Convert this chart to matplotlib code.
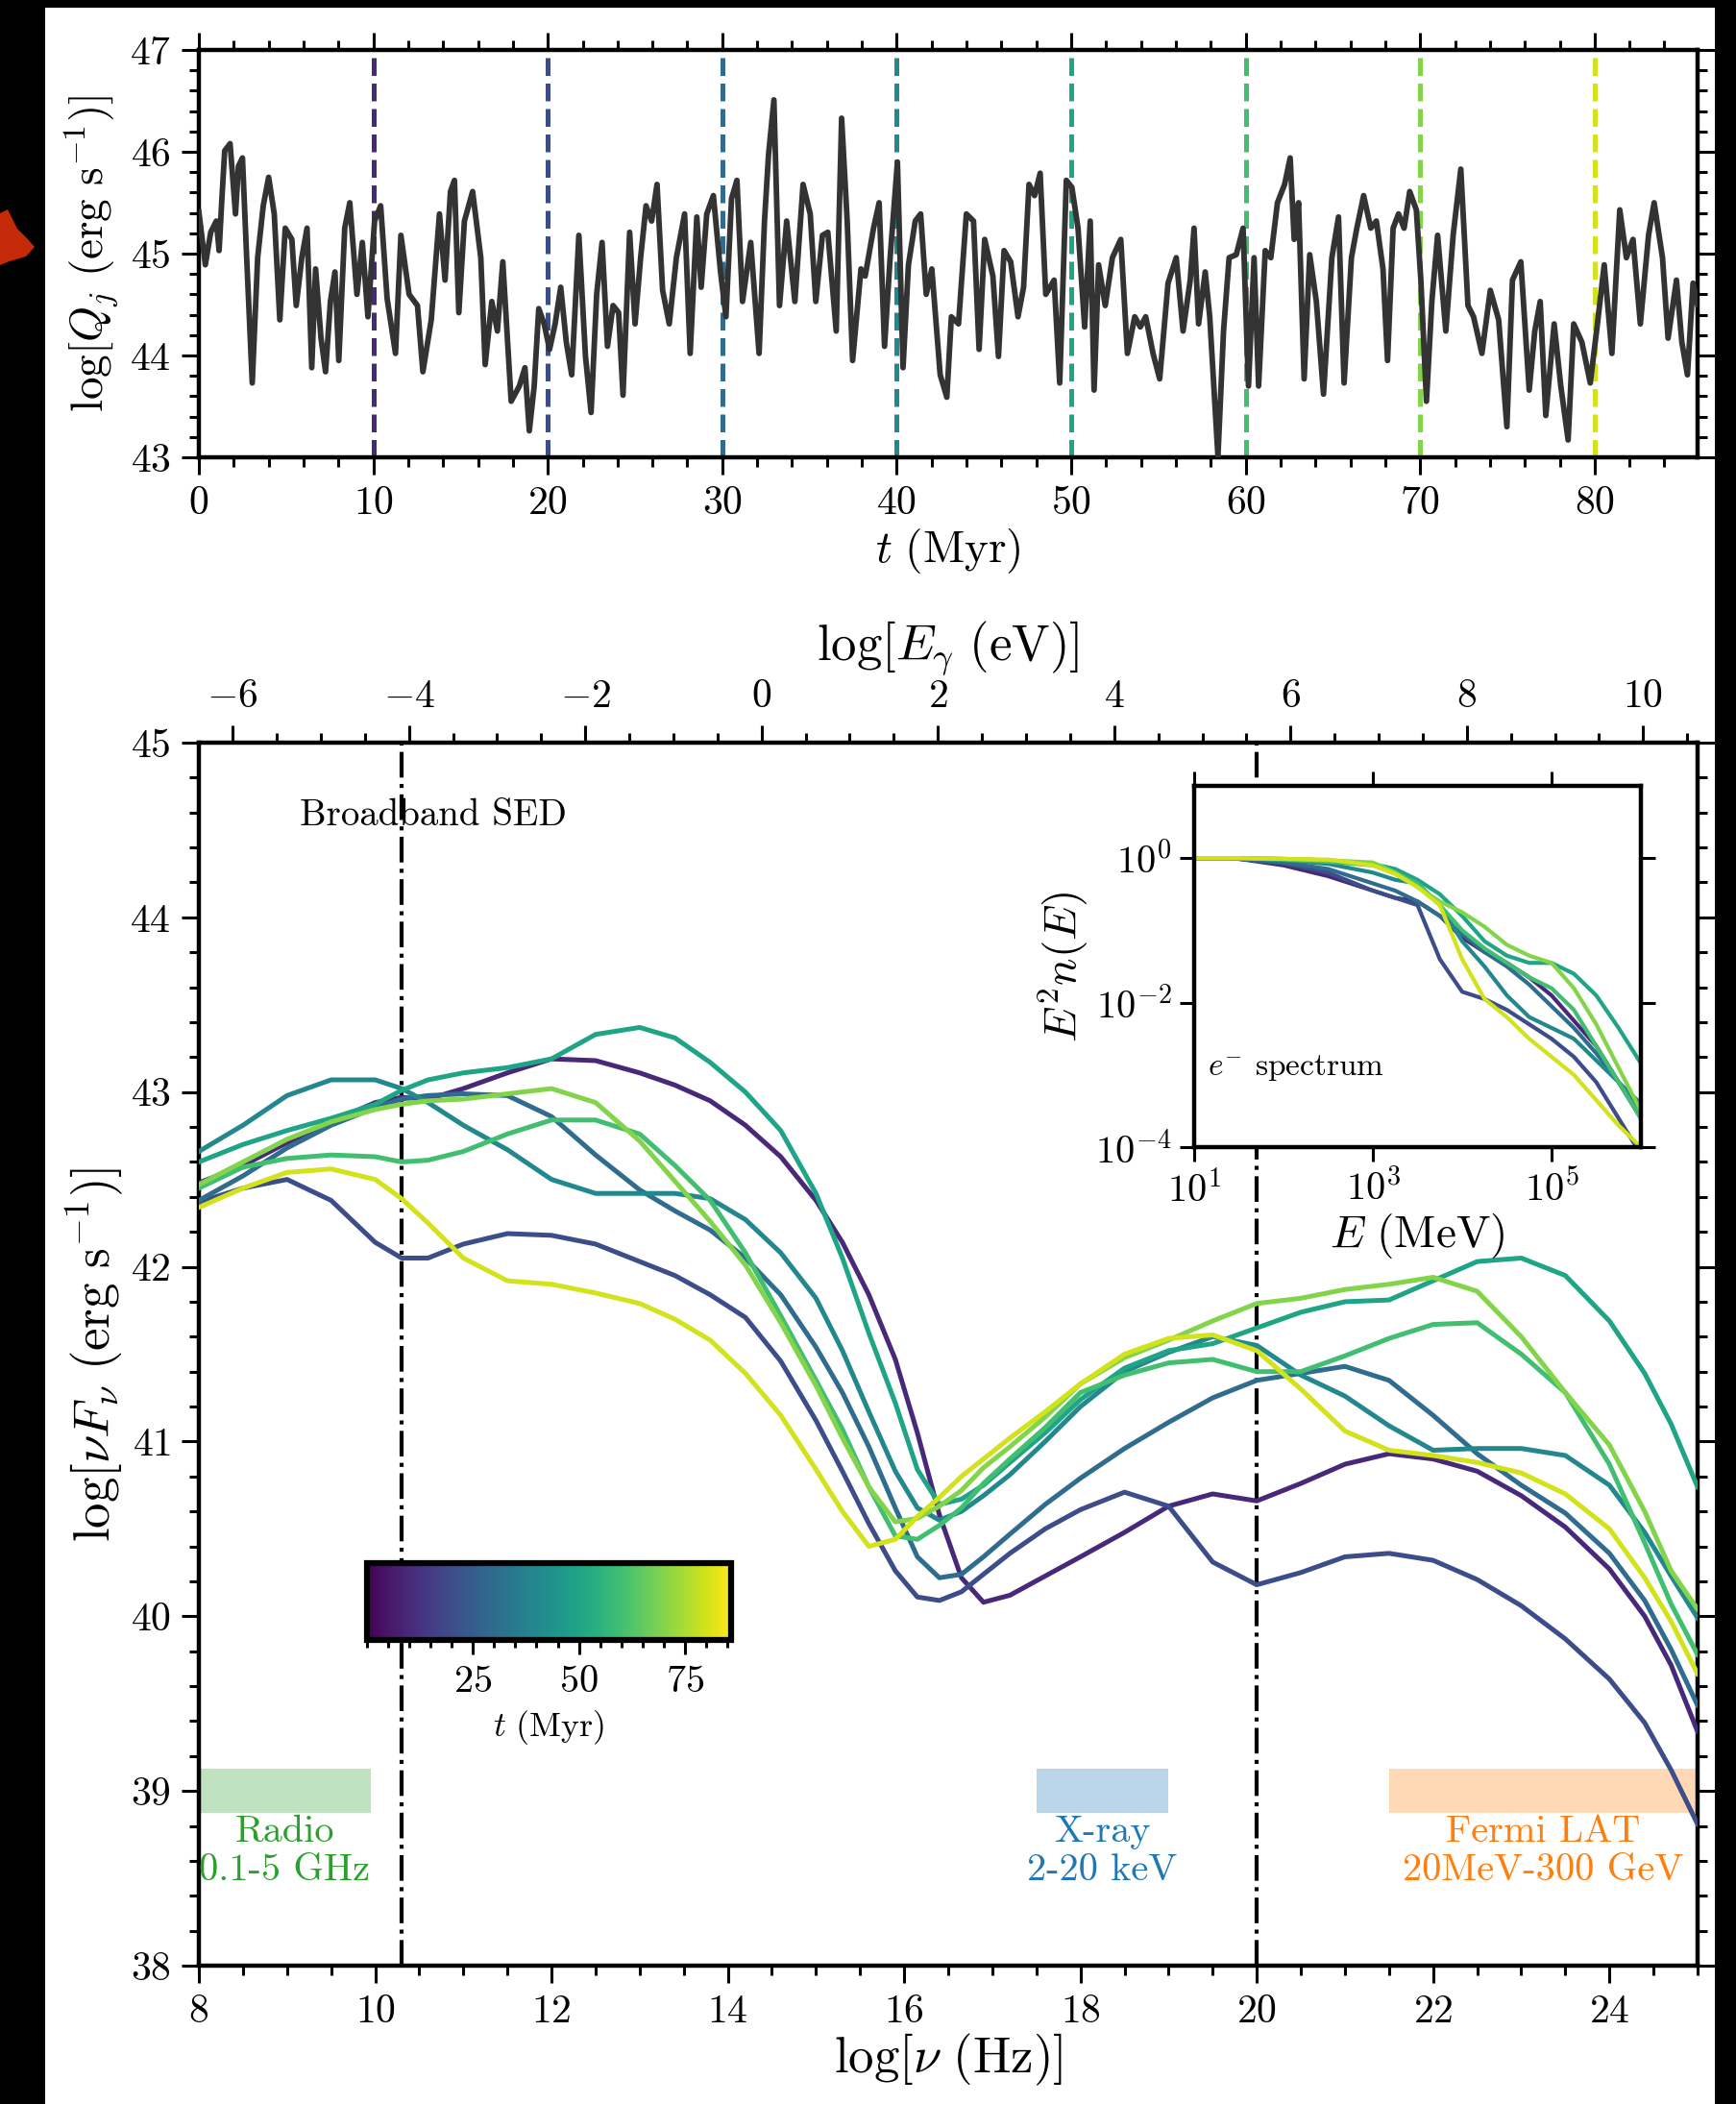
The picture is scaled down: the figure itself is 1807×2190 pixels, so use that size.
import matplotlib

matplotlib.use("Agg")
import matplotlib.pyplot as plt
import numpy as np
from matplotlib.cm import ScalarMappable
from matplotlib.colors import Normalize
from matplotlib.patches import Polygon, Rectangle
from matplotlib.ticker import FixedLocator, MultipleLocator, NullLocator

plt.rcParams.update({
    "font.family": "serif",
    "font.serif": ["cmr10"],
    "mathtext.fontset": "cm",
    "axes.formatter.use_mathtext": True,
    "axes.unicode_minus": False,
})

# --- jet power history -------------------------------------------------------
T_MYR = [
    0.0, 0.37, 0.68, 1.0, 1.16, 1.32, 1.48, 1.79, 2.1, 2.27, 2.5, 2.74, 3.06, 3.37, 3.69, 4.0,
    4.32, 4.64, 4.95, 5.33, 5.58, 5.9, 6.2, 6.47, 6.69, 7.0, 7.26, 7.54, 7.8, 8.02, 8.36, 8.65,
    9.06, 9.37, 9.69, 10.07, 10.42, 10.79, 11.27, 11.58, 12.05, 12.53, 12.84, 13.32, 13.79,
    14.11, 14.42, 14.65, 14.9, 15.22, 15.69, 16.16, 16.41, 16.79, 17.11, 17.42, 17.9, 18.37,
    18.69, 18.94, 19.22, 19.48, 19.79, 20.1, 20.42, 20.74, 21.06, 21.37, 21.78, 22.16, 22.48,
    22.8, 23.11, 23.42, 23.74, 24.06, 24.31, 24.69, 25.0, 25.32, 25.63, 25.95, 26.26, 26.58,
    26.96, 27.37, 27.84, 28.16, 28.54, 28.79, 29.11, 29.49, 29.9, 30.21, 30.53, 30.84, 31.16,
    31.63, 32.11, 32.42, 32.65, 32.96, 33.28, 33.69, 34.16, 34.63, 35.04, 35.36, 35.74, 36.05,
    36.53, 36.84, 37.16, 37.47, 37.95, 38.19, 38.67, 38.99, 39.3, 39.62, 40.04, 40.36, 40.67,
    41.06, 41.37, 41.69, 42.01, 42.49, 42.87, 43.13, 43.54, 43.99, 44.4, 44.72, 45.04, 45.51,
    45.83, 46.15, 46.53, 46.95, 47.27, 47.58, 47.9, 48.22, 48.54, 49.02, 49.34, 49.72, 50.04,
    50.39, 50.77, 51.09, 51.31, 51.57, 51.95, 52.36, 52.84, 53.22, 53.64, 53.96, 54.27, 54.69,
    55.07, 55.55, 56.02, 56.41, 56.82, 57.04, 57.3, 57.68, 57.94, 58.41, 58.73, 59.05, 59.46,
    59.85, 60.16, 60.48, 60.74, 61.12, 61.44, 61.82, 62.23, 62.55, 62.78, 63.03, 63.35, 63.67,
    64.05, 64.46, 64.94, 65.32, 65.64, 66.06, 66.37, 66.76, 67.17, 67.49, 67.87, 68.13, 68.45,
    68.76, 69.08, 69.4, 69.78, 70.04, 70.36, 70.67, 71.0, 71.47, 71.89, 72.33, 72.74, 73.06,
    73.54, 74.02, 74.5, 74.97, 75.29, 75.77, 76.25, 76.57, 76.88, 77.2, 77.68, 78.06, 78.48,
    78.8, 79.27, 79.75, 80.16, 80.55, 80.99, 81.44, 81.82, 82.2, 82.62, 83.09, 83.41, 83.89,
    84.21, 84.69, 85.0, 85.32, 85.64, 85.9,
]
LOG_QJ = [
    45.41, 44.89, 45.21, 45.32, 45.03, 45.54, 46.01, 46.08, 45.39, 45.86, 45.94, 44.96, 43.73,
    44.96, 45.47, 45.75, 45.39, 44.35, 45.25, 45.14, 44.49, 44.96, 45.25, 43.88, 44.85, 44.17,
    43.84, 44.53, 44.82, 43.95, 45.25, 45.5, 44.6, 45.11, 44.38, 45.32, 45.47, 44.56, 44.02,
    45.18, 44.6, 44.49, 43.84, 44.35, 45.39, 44.74, 45.61, 45.72, 44.42, 45.32, 45.61, 44.96,
    43.91, 44.53, 44.24, 44.92, 43.55, 43.70, 43.88, 43.26, 43.70, 44.46, 44.31, 44.06, 44.31,
    44.67, 44.13, 43.81, 45.18, 43.99, 43.44, 44.6, 45.11, 44.09, 44.49, 44.42, 43.61, 45.21,
    44.31, 44.96, 45.47, 45.32, 45.68, 44.64, 44.31, 44.96, 45.39, 44.02, 45.36, 44.67, 45.39,
    45.57, 44.82, 44.38, 45.54, 45.72, 44.53, 45.11, 44.02, 45.32, 45.97, 46.51, 44.49, 45.32,
    44.53, 45.68, 45.39, 44.53, 45.18, 45.21, 44.24, 46.33, 45.32, 43.95, 44.85, 44.78, 45.25,
    45.5, 44.09, 44.96, 45.9, 43.88, 44.89, 45.32, 45.39, 44.6, 44.85, 43.81, 43.59, 44.38,
    44.31, 45.39, 45.32, 44.06, 45.14, 44.78, 43.99, 45.03, 44.92, 44.38, 44.67, 45.68, 45.57,
    45.79, 44.6, 44.74, 43.73, 45.72, 45.65, 45.25, 44.28, 45.32, 43.66, 44.89, 44.49, 44.96,
    45.14, 44.02, 44.38, 44.28, 44.38, 44.02, 43.77, 44.71, 44.96, 44.24, 44.74, 45.25, 44.31,
    44.82, 44.38, 43.01, 44.24, 44.96, 44.99, 45.25, 43.7, 44.96, 43.70, 45.03, 44.96, 45.5,
    45.68, 45.94, 45.14, 45.5, 43.77, 44.99, 44.53, 43.62, 44.96, 45.36, 43.73, 44.96, 45.25,
    45.57, 45.25, 45.32, 44.85, 43.95, 45.25, 45.39, 45.25, 45.61, 45.43, 44.74, 43.55, 44.53,
    45.18, 44.24, 45.18, 45.83, 44.49, 44.38, 44.02, 44.64, 44.35, 43.30, 44.74, 44.92, 43.66,
    44.24, 44.53, 43.41, 44.31, 43.70, 43.17, 44.31, 44.13, 43.73, 44.31, 44.89, 44.02, 45.43,
    44.96, 45.14, 44.31, 45.18, 45.5, 44.96, 44.17, 44.74, 44.13, 43.81, 44.71, 44.5,
]
SNAP_TIMES = [10, 20, 30, 40, 50, 60, 70, 80]

# --- broadband SED at each snapshot (log nu in Hz, log nuF_nu in erg/s) -------
LOG_NU = [
    8.0, 8.5, 9.0, 9.5, 10.0, 10.3, 10.6, 11.0, 11.5, 12.0, 12.5, 13.0, 13.4, 13.8, 14.2,
    14.6, 15.0, 15.3, 15.6, 15.9, 16.15, 16.4, 16.65, 16.9, 17.2, 17.6, 18.0, 18.5, 19.0,
    19.5, 20.0, 20.5, 21.0, 21.5, 22.0, 22.5, 23.0, 23.5, 24.0, 24.4, 24.7, 25.0,
]
SED_T10 = [
    42.48, 42.58, 42.71, 42.83, 42.94, 42.97, 42.96, 43.02, 43.11, 43.19, 43.18, 43.11, 43.04,
    42.95, 42.81, 42.63, 42.38, 42.14, 41.84, 41.47, 41.05, 40.58, 40.22, 40.08, 40.12, 40.23,
    40.34, 40.48, 40.63, 40.70, 40.66, 40.76, 40.87, 40.93, 40.90, 40.83, 40.69, 40.51, 40.27,
    40.00, 39.72, 39.34,
]
SED_T20 = [
    42.37, 42.45, 42.50, 42.38, 42.14, 42.05, 42.05, 42.13, 42.19, 42.18, 42.13, 42.03, 41.95,
    41.84, 41.71, 41.46, 41.12, 40.83, 40.53, 40.26, 40.11, 40.09, 40.14, 40.24, 40.36, 40.50,
    40.61, 40.71, 40.63, 40.31, 40.18, 40.25, 40.34, 40.36, 40.32, 40.21, 40.06, 39.87, 39.64,
    39.39, 39.12, 38.81,
]
SED_T30 = [
    42.38, 42.52, 42.68, 42.81, 42.91, 42.96, 42.98, 42.99, 42.98, 42.86, 42.64, 42.44, 42.32,
    42.21, 42.05, 41.84, 41.54, 41.28, 40.97, 40.62, 40.34, 40.22, 40.24, 40.34, 40.47, 40.64,
    40.79, 40.96, 41.11, 41.25, 41.35, 41.39, 41.43, 41.35, 41.15, 40.93, 40.75, 40.59, 40.36,
    40.09, 39.81, 39.49,
]
SED_T40 = [
    42.66, 42.81, 42.98, 43.07, 43.07, 43.02, 42.94, 42.81, 42.67, 42.50, 42.42, 42.42, 42.42,
    42.39, 42.27, 42.08, 41.82, 41.52, 41.17, 40.83, 40.62, 40.55, 40.60, 40.69, 40.81, 41.00,
    41.20, 41.40, 41.51, 41.60, 41.55, 41.38, 41.26, 41.09, 40.95, 40.96, 40.96, 40.92, 40.75,
    40.48, 40.23, 39.99,
]
SED_T50 = [
    42.60, 42.70, 42.78, 42.85, 42.93, 43.01, 43.07, 43.11, 43.14, 43.19, 43.33, 43.37, 43.31,
    43.17, 43.00, 42.78, 42.42, 42.05, 41.62, 41.22, 40.84, 40.64, 40.67, 40.75, 40.88, 41.05,
    41.24, 41.42, 41.52, 41.56, 41.65, 41.74, 41.80, 41.81, 41.92, 42.03, 42.05, 41.95, 41.69,
    41.39, 41.10, 40.74,
]
SED_T60 = [
    42.45, 42.57, 42.62, 42.64, 42.63, 42.60, 42.61, 42.66, 42.76, 42.84, 42.84, 42.76, 42.58,
    42.38, 42.08, 41.72, 41.35, 41.07, 40.74, 40.46, 40.44, 40.52, 40.62, 40.76, 40.90, 41.08,
    41.28, 41.38, 41.45, 41.47, 41.40, 41.40, 41.49, 41.59, 41.67, 41.68, 41.50, 41.28, 40.87,
    40.42, 40.07, 39.78,
]
SED_T70 = [
    42.47, 42.60, 42.73, 42.83, 42.90, 42.93, 42.95, 42.96, 42.99, 43.02, 42.94, 42.72, 42.49,
    42.26, 42.01, 41.68, 41.32, 41.02, 40.74, 40.54, 40.56, 40.63, 40.72, 40.85, 40.97, 41.14,
    41.33, 41.48, 41.58, 41.69, 41.79, 41.82, 41.87, 41.90, 41.94, 41.86, 41.60, 41.28, 40.98,
    40.60, 40.26, 40.04,
]
SED_T80 = [
    42.34, 42.45, 42.54, 42.56, 42.50, 42.39, 42.25, 42.05, 41.92, 41.90, 41.85, 41.79, 41.70,
    41.58, 41.39, 41.15, 40.84, 40.60, 40.40, 40.44, 40.57, 40.68, 40.80, 40.90, 41.02, 41.17,
    41.33, 41.50, 41.59, 41.61, 41.52, 41.30, 41.06, 40.95, 40.92, 40.88, 40.82, 40.70, 40.50,
    40.22, 39.97, 39.67,
]
SEDS = [SED_T10, SED_T20, SED_T30, SED_T40, SED_T50, SED_T60, SED_T70, SED_T80]

# --- electron spectra for the inset (log E in MeV, log E^2 n(E)) -------------
LOG_E = [1.0, 1.5, 2.0, 2.5, 3.0, 3.25, 3.5, 3.75, 4.0, 4.25, 4.5, 4.75, 5.0, 5.25, 5.5, 5.75, 6.0]
ESPEC_T10 = [0, -0.01, -0.1, -0.25, -0.45, -0.55, -0.6, -0.8, -1.1, -1.3, -1.45, -1.65, -1.9, -2.25, -2.6, -3.1, -3.6]
ESPEC_T20 = [0, -0.01, -0.07, -0.2, -0.45, -0.55, -0.65, -1.4, -1.85, -1.95, -2.1, -2.3, -2.5, -2.75, -3.1, -3.6, -4.1]
ESPEC_T30 = [0, -0.01, -0.06, -0.15, -0.35, -0.45, -0.6, -0.8, -1.05, -1.3, -1.5, -1.75, -2.05, -2.35, -2.7, -3.1, -3.5]
ESPEC_T40 = [0, 0, -0.03, -0.08, -0.2, -0.3, -0.35, -0.65, -1.15, -1.5, -1.9, -2.2, -2.35, -2.5, -2.8, -3.1, -3.4]
ESPEC_T50 = [0, 0, -0.01, -0.03, -0.08, -0.15, -0.3, -0.5, -0.8, -1.15, -1.35, -1.45, -1.45, -1.6, -1.9, -2.35, -2.84]
ESPEC_T60 = [0, 0, -0.02, -0.05, -0.1, -0.2, -0.35, -0.65, -1.0, -1.25, -1.45, -1.65, -1.8, -2.1, -2.6, -3.1, -3.6]
ESPEC_T70 = [0, 0, -0.01, -0.03, -0.06, -0.2, -0.4, -0.6, -0.75, -0.95, -1.2, -1.35, -1.45, -1.8, -2.3, -2.9, -3.5]
ESPEC_T80 = [0, 0, -0.01, -0.02, -0.1, -0.22, -0.4, -0.65, -1.4, -1.95, -2.2, -2.5, -2.75, -3.0, -3.35, -3.7, -4.0]
ESPECS = [ESPEC_T10, ESPEC_T20, ESPEC_T30, ESPEC_T40, ESPEC_T50, ESPEC_T60, ESPEC_T70, ESPEC_T80]

# --- observing bands ----------------------------------------------------------
BAND_LABELS = ["Radio\n0.1-5 GHz", "X-ray\n2-20 keV", "Fermi LAT\n20MeV-300 GeV"]
BAND_LO = [8.0, 17.5, 21.5]
BAND_HI = [9.95, 19.0, 25.0]
BAND_COLORS = ["tab:green", "tab:blue", "tab:orange"]

LOG_H_EV = -14.383   # log10 of Planck constant in eV s
T_MAX = 85.9

W, H = 1808, 2190
fig = plt.figure(figsize=(W / 100, H / 100), dpi=100, facecolor="black")
fig.patches.append(Rectangle((47 / W, 0), (1785 - 47) / W, (H - 8) / H,
                             transform=fig.transFigure, facecolor="white",
                             edgecolor="none", zorder=-10))
# small red mark on the left margin
blob = np.array([(0, 222), (8, 218), (18, 238), (28, 248), (36, 257), (27, 267), (10, 272), (0, 276)])
fig.patches.append(Polygon(np.c_[blob[:, 0] / W, 1 - blob[:, 1] / H], closed=True,
                           transform=fig.transFigure, facecolor="#c42a08",
                           edgecolor="none", zorder=-5))

cmap = plt.get_cmap("viridis")
norm = Normalize(0, T_MAX)

TICK = dict(which="both", direction="out", width=2.2, labelsize=30, pad=8)


def style_spines(ax, lw=3.2):
    for s in ax.spines.values():
        s.set_linewidth(lw)


# ----- top panel: jet power ---------------------------------------------------
ax1 = fig.add_axes([207 / W, 1 - 476 / H, 1560 / W, 424 / H])
ax1.plot(T_MYR, LOG_QJ, color="#333333", lw=4.2, zorder=3)
for t in SNAP_TIMES:
    ax1.axvline(t, color=cmap(norm(t)), ls="--", lw=3.6, zorder=2)
ax1.set_xlim(0, T_MAX)
ax1.set_ylim(43, 47)
ax1.xaxis.set_major_locator(MultipleLocator(10))
ax1.xaxis.set_minor_locator(MultipleLocator(2))
ax1.yaxis.set_major_locator(MultipleLocator(1))
ax1.yaxis.set_minor_locator(MultipleLocator(0.2))
ax1.tick_params(top=True, right=True, **TICK)
ax1.tick_params(which="major", length=13)
ax1.tick_params(which="minor", length=7)
ax1.set_xlabel(r"$t\ (\mathrm{Myr})$", fontsize=34, labelpad=4)
ax1.set_ylabel(r"$\log[Q_j\ (\mathrm{erg\ s^{-1}})]$", fontsize=34, labelpad=6)
style_spines(ax1)

# ----- bottom panel: broadband SED --------------------------------------------
ax2 = fig.add_axes([207 / W, 1 - 2046 / H, 1560 / W, 1273 / H])
for t, sed in zip(SNAP_TIMES, SEDS):
    ax2.plot(LOG_NU, sed, color=cmap(norm(t)), lw=3.6, zorder=3)
for x in (10.3, 20.0):
    ax2.axvline(x, color="k", ls="-.", lw=3.0, zorder=2)
for lab, lo, hi, c in zip(BAND_LABELS, BAND_LO, BAND_HI, BAND_COLORS):
    ax2.fill_between([lo, hi], 38.875, 39.125, color=c, alpha=0.3, lw=0, zorder=1)
    ax2.text((lo + hi) / 2, 38.86, lab, color=c, ha="center", va="top",
             fontsize=29, linespacing=1.15, clip_on=True)
ax2.text(9.14, 44.58, "Broadband SED", fontsize=28, ha="left", va="center")
ax2.set_xlim(8, 25)
ax2.set_ylim(38, 45)
ax2.xaxis.set_major_locator(MultipleLocator(2))
ax2.xaxis.set_minor_locator(MultipleLocator(0.5))
ax2.yaxis.set_major_locator(MultipleLocator(1))
ax2.yaxis.set_minor_locator(MultipleLocator(0.2))
ax2.tick_params(top=False, right=True, **TICK)
ax2.tick_params(which="major", length=13)
ax2.tick_params(which="minor", length=7)
ax2.set_xlabel(r"$\log[\nu\ (\mathrm{Hz})]$", fontsize=38, labelpad=2)
ax2.set_ylabel(r"$\log[\nu F_\nu\ (\mathrm{erg\ s^{-1}})]$", fontsize=38, labelpad=4)
style_spines(ax2)

sec = ax2.secondary_xaxis("top", functions=(lambda x: x + LOG_H_EV, lambda x: x - LOG_H_EV))
sec.xaxis.set_major_locator(MultipleLocator(2))
sec.xaxis.set_minor_locator(MultipleLocator(0.5))
sec.tick_params(**TICK)
sec.tick_params(which="major", length=13)
sec.tick_params(which="minor", length=7)
sec.set_xlabel(r"$\log[E_\gamma\ (\mathrm{eV})]$", fontsize=38, labelpad=14)

# ----- inset: electron spectrum -------------------------------------------------
axi = fig.add_axes([1243 / W, 1 - 1194 / H, 465 / W, 376 / H])
for t, sp in zip(SNAP_TIMES, ESPECS):
    axi.plot(10.0 ** np.array(LOG_E), 10.0 ** np.array(sp), color=cmap(norm(t)), lw=3.0)
axi.set_xscale("log")
axi.set_yscale("log")
axi.set_xlim(1e1, 1e6)
axi.set_ylim(1e-4, 1e1)
axi.xaxis.set_major_locator(FixedLocator([1e1, 1e3, 1e5]))
axi.yaxis.set_major_locator(FixedLocator([1e-4, 1e-2, 1e0]))
axi.xaxis.set_minor_locator(NullLocator())
axi.yaxis.set_minor_locator(NullLocator())
axi.tick_params(which="major", direction="out", top=True, right=True, length=11,
                width=2.2, labelsize=29, pad=6)
axi.set_xlabel(r"$E\ (\mathrm{MeV})$", fontsize=34, labelpad=2)
axi.set_ylabel(r"$E^2 n(E)$", fontsize=34, labelpad=4)
axi.text(0.03, 0.22, r"$e^{-}$ spectrum", transform=axi.transAxes, fontsize=24,
         ha="left", va="center")
style_spines(axi)

# ----- colorbar -------------------------------------------------------------------
cax = fig.add_axes([382 / W, 1 - 1707 / H, 379 / W, 80 / H])
cb = fig.colorbar(ScalarMappable(norm=norm, cmap=cmap), cax=cax, orientation="horizontal")
cb.set_ticks([25, 50, 75])
cax.xaxis.set_minor_locator(MultipleLocator(5))
cax.tick_params(which="both", direction="out", width=2.2, labelsize=29, pad=8)
cax.tick_params(which="major", length=11)
cax.tick_params(which="minor", length=6)
cb.outline.set_linewidth(4.5)
cb.set_label(r"$t\ (\mathrm{Myr})$", fontsize=26, labelpad=6)

fig.savefig("out.png", dpi=100, facecolor=fig.get_facecolor())
